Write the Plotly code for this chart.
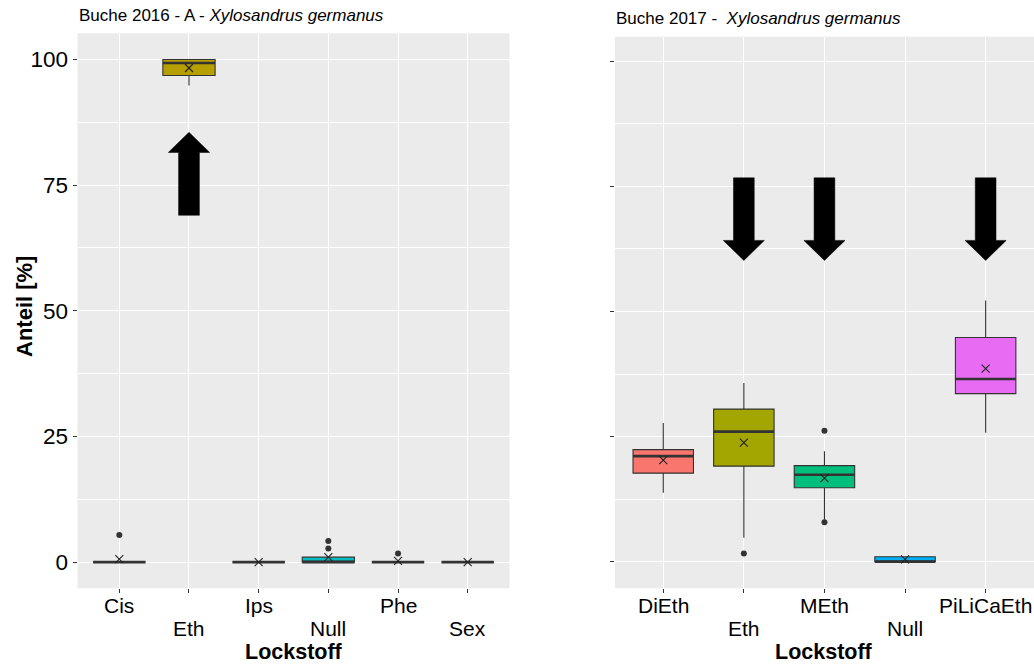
import plotly.graph_objects as go

# ---- Buche 2016 - A (six lure substances) ----
cats_2016 = ["Cis", "Eth", "Ips", "Null", "Phe", "Sex"]
q1_2016 = [0, 96.8, 0, 0, 0, 0]
med_2016 = [0, 99.3, 0, 0, 0, 0]
q3_2016 = [0, 100, 0, 1.0, 0, 0]
lo_2016 = [0, 94.8, 0, 0, 0, 0]
hi_2016 = [0, 100, 0, 1.0, 0, 0]
mean_2016 = [0.6, 98.3, 0, 1.0, 0.26, 0]
outliers_2016 = {"Cis": [5.4], "Null": [2.7, 4.2], "Phe": [1.7]}
colors_2016 = ["#F8766D", "#B79F00", "#00BA38", "#00BFC4", "#619CFF", "#F564E3"]

# ---- Buche 2017 (five lure substances) ----
cats_2017 = ["DiEth", "Eth", "MEth", "Null", "PiLiCaEth"]
q1_2017 = [17.7, 19.1, 14.8, 0, 33.6]
med_2017 = [21.1, 26.0, 17.4, 0, 36.5]
q3_2017 = [22.4, 30.5, 19.2, 1.0, 44.8]
lo_2017 = [13.8, 4.8, 8.4, 0, 25.8]
hi_2017 = [27.7, 35.7, 22.1, 1.0, 52.2]
mean_2017 = [20.3, 23.8, 16.7, 0.5, 38.6]
outliers_2017 = {"Eth": [1.65], "MEth": [7.9, 26.2]}
colors_2017 = ["#F8766D", "#A3A500", "#00BF7D", "#00B0F6", "#E76BF3"]

# Highlight arrows: (panel, category, tail value, tip value)
arrows = [
    (1, "Eth", 69.0, 85.5),
    (2, "Eth", 76.7, 60.2),
    (2, "MEth", 76.7, 60.2),
    (2, "PiLiCaEth", 76.7, 60.2),
]

W, H = 1034, 664
FONT = "Liberation Sans, Arial, sans-serif"
LINE = "#333333"
BOX_W = 0.75

fig = go.Figure()


def add_panel(cats, q1, med, q3, lo, hi, mean, outliers, colors, xa, ya):
    xs = list(range(1, len(cats) + 1))
    for i, c in enumerate(cats):
        x = xs[i]
        fig.add_trace(go.Box(
            x=[x], q1=[q1[i]], median=[med[i]], q3=[q3[i]],
            lowerfence=[lo[i]], upperfence=[hi[i]],
            width=BOX_W, whiskerwidth=0, fillcolor=colors[i],
            line=dict(color=LINE, width=1.1), boxpoints=False,
            xaxis=xa, yaxis=ya, showlegend=False, hoverinfo="skip"))
        # thicker median bar
        fig.add_trace(go.Scatter(
            x=[x - BOX_W / 2, x + BOX_W / 2], y=[med[i], med[i]],
            mode="lines", line=dict(color=LINE, width=2.6),
            xaxis=xa, yaxis=ya, showlegend=False, hoverinfo="skip"))
        if c in outliers:
            fig.add_trace(go.Scatter(
                x=[x] * len(outliers[c]), y=outliers[c], mode="markers",
                marker=dict(color=LINE, size=6),
                xaxis=xa, yaxis=ya, showlegend=False, hoverinfo="skip"))
    fig.add_trace(go.Scatter(
        x=xs, y=mean, mode="markers",
        marker=dict(symbol="x-thin-open", size=8, color="#222222",
                    line=dict(color="#222222", width=1.1)),
        xaxis=xa, yaxis=ya, showlegend=False, hoverinfo="skip"))
    return xs


xs1 = add_panel(cats_2016, q1_2016, med_2016, q3_2016, lo_2016, hi_2016,
                mean_2016, outliers_2016, colors_2016, "x", "y")
xs2 = add_panel(cats_2017, q1_2017, med_2017, q3_2017, lo_2017, hi_2017,
                mean_2017, outliers_2017, colors_2017, "x2", "y2")

# block arrows as path shapes in data coordinates
for panel, cat, tail, tip in arrows:
    cats = cats_2016 if panel == 1 else cats_2017
    xc = cats.index(cat) + 1
    unit_px = 69.5 if panel == 1 else 80.7
    sh = 10.4 / unit_px
    hh = 20.6 / unit_px
    head_len = 4.0
    d = 1 if tip > tail else -1
    base = tip - d * head_len
    path = (f"M {xc - sh} {tail} L {xc - sh} {base} L {xc - hh} {base} "
            f"L {xc} {tip} L {xc + hh} {base} L {xc + sh} {base} "
            f"L {xc + sh} {tail} Z")
    ref = "" if panel == 1 else "2"
    fig.add_shape(type="path", path=path, xref="x" + ref, yref="y" + ref,
                  fillcolor="black", line=dict(color="black", width=0.5))

grid = dict(showgrid=True, gridcolor="white", gridwidth=1.2, zeroline=False,
            ticks="outside", ticklen=4, tickwidth=1, tickcolor=LINE,
            showline=False)
yminor = dict(tickvals=[12.5, 37.5, 62.5, 87.5], showgrid=True,
              gridcolor="white", gridwidth=0.6, ticks="")

fig.update_layout(
    width=W, height=H,
    margin=dict(l=0, r=0, t=0, b=0),
    paper_bgcolor="white", plot_bgcolor="#EBEBEB",
    font=dict(family=FONT, color="black"),
    boxmode="overlay",
    xaxis=dict(domain=[77.5 / W, 509.5 / W], range=[0.4, 6.6],
               tickvals=xs1, showticklabels=False, **grid),
    yaxis=dict(domain=[1 - 588.3 / H, 1 - 33.3 / H], range=[-5.2, 105.2],
               tickvals=[0, 25, 50, 75, 100], minor=yminor,
               tickfont=dict(size=22.5, color="black"), **grid),
    xaxis2=dict(domain=[614.9 / W, 1.0], range=[0.4, 5.6], anchor="y2",
                tickvals=xs2, showticklabels=False, **grid),
    yaxis2=dict(domain=[1 - 588.3 / H, 1 - 36.7 / H], range=[-5.3, 104.9],
                anchor="x2", tickvals=[0, 25, 50, 75, 100], minor=yminor,
                showticklabels=False, **grid),
)

ann = []
# staggered category labels
for cats, xs, xr in [(cats_2016, xs1, "x"), (cats_2017, xs2, "x2")]:
    for i, c in enumerate(cats):
        ypix = 605 if i % 2 == 0 else 628
        ann.append(dict(text=c, x=xs[i], xref=xr, y=1 - ypix / H, yref="paper",
                        showarrow=False, xanchor="center", yanchor="middle",
                        font=dict(size=21, color="black")))
# axis titles
for xc in [(77.5 + 509.5) / 2, (614.9 + 1034) / 2]:
    ann.append(dict(text="<b>Lockstoff</b>", x=xc / W, xref="paper",
                    y=1 - 652 / H, yref="paper", showarrow=False,
                    xanchor="center", yanchor="middle",
                    font=dict(size=21.5, color="black")))
ann.append(dict(text="<b>Anteil [%]</b>", x=24 / W, xref="paper",
                y=1 - 307 / H, yref="paper", showarrow=False, textangle=-90,
                xanchor="center", yanchor="middle",
                font=dict(size=22, color="black")))
# panel titles
ann.append(dict(text="Buche 2016 - A - <i>Xylosandrus germanus</i>",
                x=77 / W, xref="paper", y=1 - 16 / H, yref="paper",
                showarrow=False, xanchor="left", yanchor="middle",
                font=dict(size=17, color="black")))
ann.append(dict(text="Buche 2017 -  <i>Xylosandrus germanus</i>",
                x=614 / W, xref="paper", y=1 - 18 / H, yref="paper",
                showarrow=False, xanchor="left", yanchor="middle",
                font=dict(size=17, color="black")))
fig.update_layout(annotations=ann)

fig.write_html("out.html")
